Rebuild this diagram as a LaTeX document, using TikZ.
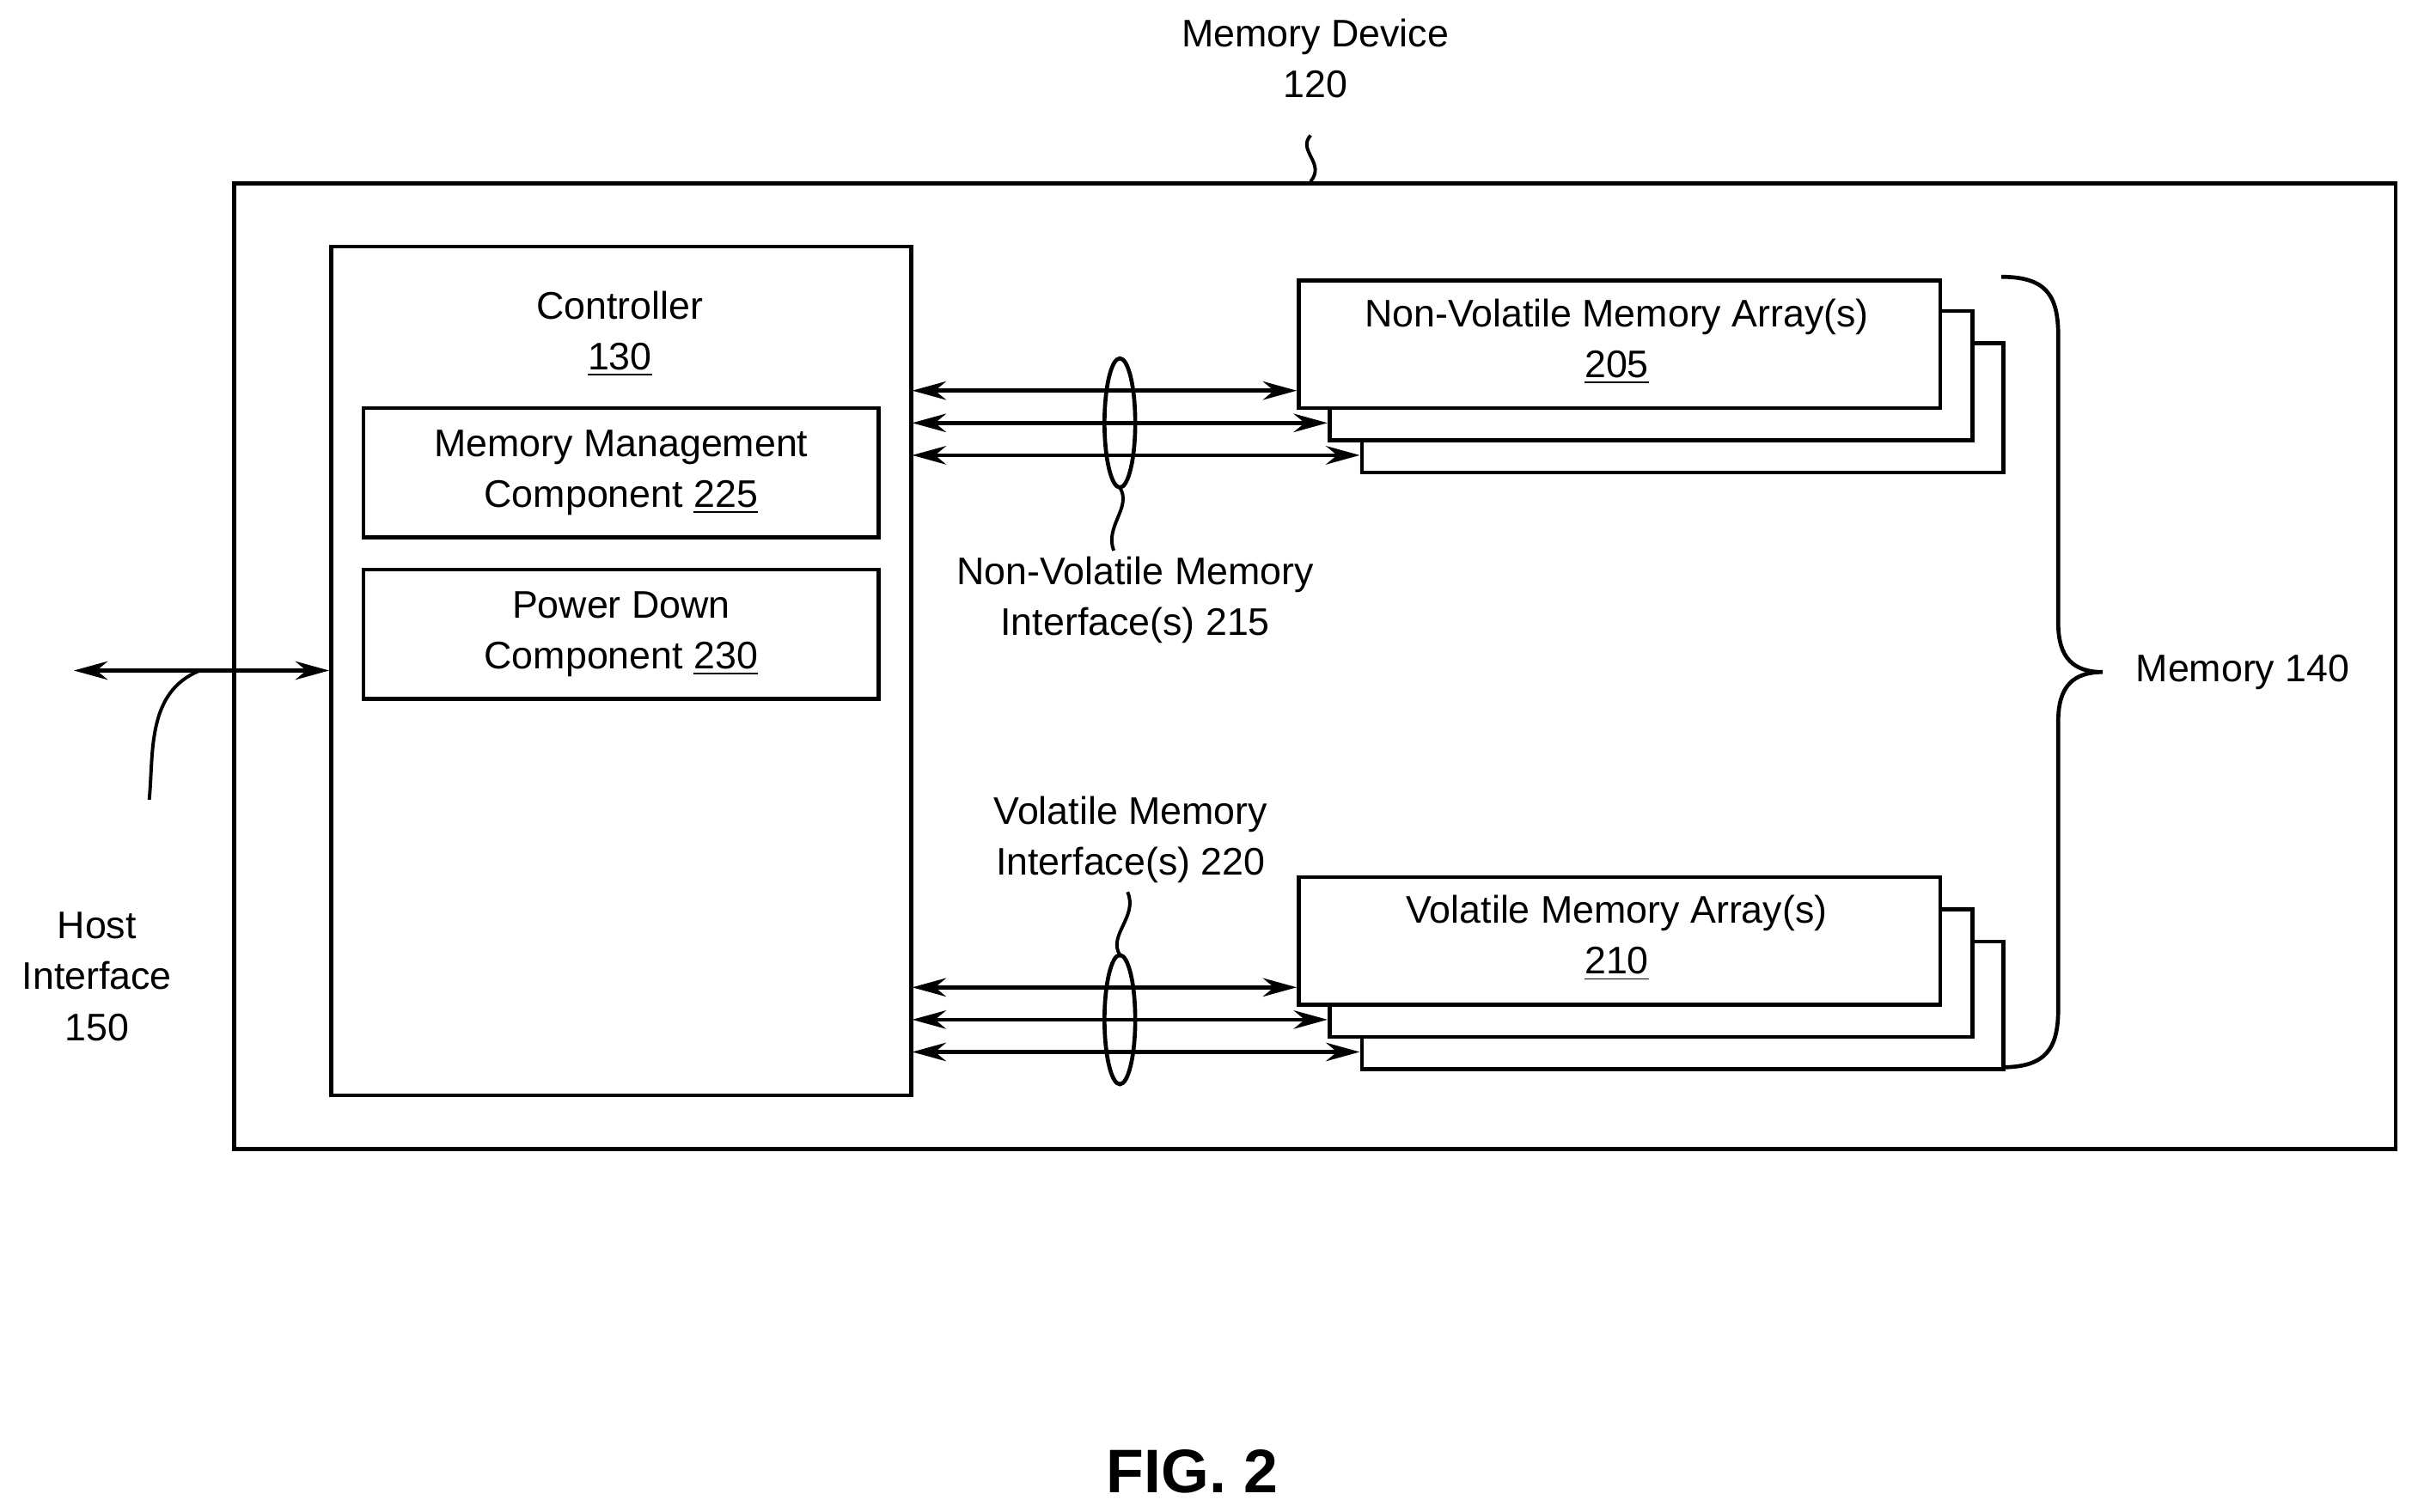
\documentclass[tikz,border=0pt]{standalone}
\usepackage{fontspec}
\setmainfont{Liberation Sans}
\usetikzlibrary{arrows.meta}
\begin{document}
\begin{tikzpicture}[x=0.5pt,y=-0.5pt,
  box/.style={draw,line width=1.3pt,fill=white},
  lbl/.style={align=center,font=\fontsize{12.5}{16.5}\selectfont,inner sep=0pt},
  arr/.style={line width=1.3pt,{Stealth[length=11pt,width=6pt]}-{Stealth[length=11pt,width=6pt]}},
  sq/.style={line width=1.1pt}]
\useasboundingbox (0,0) rectangle (1568,983);
\node[draw,line width=1.3pt,minimum width=702.5pt,minimum height=314pt,anchor=north west,inner sep=0pt] (dev) at (151,118) {};
\node[lbl] (devl) at (855,38) {Memory Device\\120};
\draw[sq] (852,88) .. controls (843,98) and (862,106) .. (852,118);
\node[box,minimum width=188.5pt,minimum height=276pt,anchor=north west,inner sep=0pt] (ctrl) at (214,159) {};
\node[lbl] (ctrll) at (403,217) {Controller\\\underline{130}};
\node[box,minimum width=167.5pt,minimum height=42pt,anchor=north west,inner sep=0pt,lbl] (mm) at (235,264) {Memory Management\\Component \underline{225}};
\node[box,minimum width=167.5pt,minimum height=42pt,anchor=north west,inner sep=0pt,lbl] (pd) at (235,369) {Power Down\\Component \underline{230}};
% NV arrays
\node[box,minimum width=208.5pt,minimum height=42pt,anchor=north west,inner sep=0pt] (nv3) at (884,222) {};
\node[box,minimum width=209pt,minimum height=42pt,anchor=north west,inner sep=0pt] (nv2) at (863,201) {};
\node[box,minimum width=208.5pt,minimum height=41.5pt,anchor=north west,inner sep=0pt] (nv1) at (843,181) {};
\node[lbl] (nvl) at (1051,222) {Non-Volatile Memory Array(s)\\\underline{205}};
% V arrays
\node[box,minimum width=208.5pt,minimum height=41.5pt,anchor=north west,inner sep=0pt] (v3) at (884,611) {};
\node[box,minimum width=209pt,minimum height=41.5pt,anchor=north west,inner sep=0pt] (v2) at (863,590) {};
\node[box,minimum width=208.5pt,minimum height=41.5pt,anchor=north west,inner sep=0pt] (v1) at (843,569) {};
\node[lbl] (vl) at (1051,610) {Volatile Memory Array(s)\\\underline{210}};
% arrows
\coordinate (c1) at (593,254); \coordinate (c2) at (593,275); \coordinate (c3) at (593,296);
\draw[arr] (c1) -- (nv1.west|-c1);
\draw[arr] (c2) -- (nv2.west|-c2);
\draw[arr] (c3) -- (nv3.west|-c3);
\coordinate (d1) at (593,642); \coordinate (d2) at (593,663); \coordinate (d3) at (593,684);
\draw[arr] (d1) -- (v1.west|-d1);
\draw[arr] (d2) -- (v2.west|-d2);
\draw[arr] (d3) -- (v3.west|-d3);
\draw[line width=1.3pt] (728,275) ellipse (5pt and 21pt);
\draw[line width=1.3pt] (728,663) ellipse (5pt and 21pt);
\draw[sq] (728,317) .. controls (736,330) and (718,342) .. (724,358);
\node[lbl] (nvi) at (738,390) {Non-Volatile Memory\\Interface(s) 215};
\draw[sq] (728,621) .. controls (720,608) and (740,596) .. (733,580);
\node[lbl] (vi) at (735,546) {Volatile Memory\\Interface(s) 220};
% brace
\draw[line width=1.3pt] (1301,180) .. controls (1330,180) and (1338,192) .. (1338,218) -- (1338,405) .. controls (1338,428) and (1348,437) .. (1367,437)
  (1367,437) .. controls (1348,437) and (1338,446) .. (1338,469) -- (1338,656) .. controls (1338,682) and (1330,694) .. (1301,694);
\node[lbl] (mem) at (1458,437) {Memory 140};
% host
\coordinate (h) at (48,436);
\draw[arr] (h) -- (ctrl.west|-h);
\draw[sq] (130,436) .. controls (95,450) and (100,490) .. (97,520);
\node[lbl] (host) at (63,635) {Host\\Interface\\150};
\node[font=\bfseries\fontsize{20}{24}\selectfont] (fig) at (775,957) {FIG. 2};
\end{tikzpicture}
\end{document}
